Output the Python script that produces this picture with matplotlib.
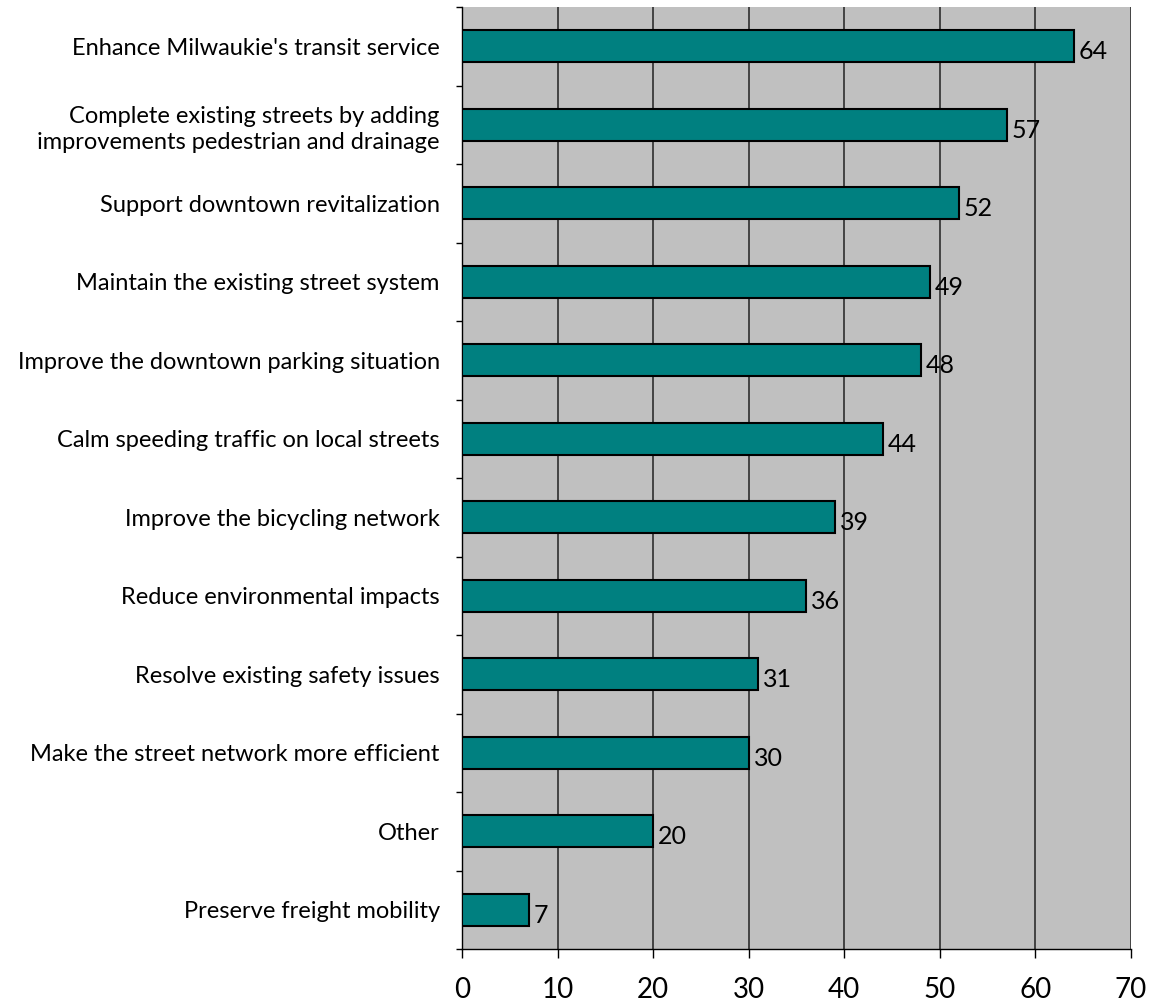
import matplotlib
matplotlib.use("Agg")
import matplotlib.pyplot as plt
import numpy as np

categories = [
    "Enhance Milwaukie's transit service",
    "Complete existing streets by adding\nimprovements pedestrian and drainage",
    "Support downtown revitalization",
    "Maintain the existing street system",
    "Improve the downtown parking situation",
    "Calm speeding traffic on local streets",
    "Improve the bicycling network",
    "Reduce environmental impacts",
    "Resolve existing safety issues",
    "Make the street network more efficient",
    "Other",
    "Preserve freight mobility",
]
values = [64, 57, 52, 49, 48, 44, 39, 36, 31, 30, 20, 7]
xticks = [0, 10, 20, 30, 40, 50, 60, 70]

plt.rcParams['font.family'] = ['Lato', 'DejaVu Sans']

fig = plt.figure(figsize=(11.55, 10.02), dpi=100)
ax = fig.add_axes([462/1155, 1 - 949/1002, (1131-462)/1155, (949-7)/1002])
ax.set_facecolor('#C0C0C0')

n = len(categories)
y = np.arange(n)
ax.barh(y, values, height=0.41, color='#008080', edgecolor='black', linewidth=1.5, zorder=3)
for yi, v in zip(y, values):
    ax.text(v + 0.5, yi + 0.07, str(v), va='center', ha='left', fontsize=18, color='black', zorder=4)

ax.set_xlim(0, 70)
ax.set_ylim(n - 0.5, -0.5)
ax.set_xticks(xticks)
ax.set_xticklabels([str(t) for t in xticks], fontsize=20)
ax.set_yticks(y)
ax.set_yticklabels(categories, fontsize=17, linespacing=1.3)
ax.tick_params(axis='y', which='major', length=0, pad=16)
ax.set_yticks(np.arange(-0.5, n, 1.0), minor=True)
ax.tick_params(axis='y', which='minor', length=4.5, width=1, direction='out')
ax.tick_params(axis='x', length=6.5, width=1, direction='out', pad=14)

ax.xaxis.grid(True, color='#222222', linewidth=1.1, zorder=1)
ax.set_axisbelow(True)
for s in ['top', 'right']:
    ax.spines[s].set_visible(False)
ax.spines['left'].set_color('black')
ax.spines['bottom'].set_color('black')
ax.spines['left'].set_linewidth(1)
ax.spines['bottom'].set_linewidth(1)

fig.savefig('out.png', dpi=100, facecolor='white')
